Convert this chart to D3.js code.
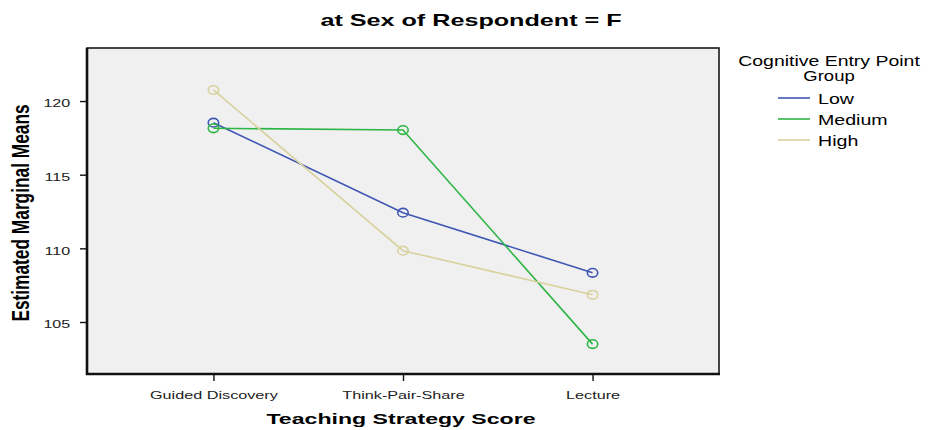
<!DOCTYPE html>
<html>
<head>
<meta charset="utf-8">
<script src="https://cdn.jsdelivr.net/npm/d3@7"></script>
<style>
  body { margin: 0; background: #fff; }
  svg { display: block; font-family: Arial, "Liberation Sans", sans-serif; }
</style>
</head>
<body>
<svg class="chartSVG" width="941" height="430"></svg>
<script>
// data
const strategies = ["Guided Discovery", "Think-Pair-Share", "Lecture"]
const lowMeans = [118.53, 112.42, 108.34]
const mediumMeans = [118.15, 118.03, 103.5]
const highMeans = [120.75, 109.84, 106.85]
const groupNames = ["Low", "Medium", "High"]
const groupColors = ["#3F57B3", "#2DB545", "#D8D29E"]
const yTicks = [105, 110, 115, 120]

const series = [lowMeans, mediumMeans, highMeans].map((v, i) => ({
  name: groupNames[i], color: groupColors[i], values: v
}))

const svg = d3.select(".chartSVG")
const plot = { left: 87, top: 48, right: 719, bottom: 374 }
// the original picture is stretched sideways, so text is widened too
const sx = 1.53

const x = d3.scalePoint()
  .domain(strategies)
  .range([plot.left, plot.right])
  .padding(0.667)

const y = d3.scaleLinear()
  .domain([101.47, 123.6])
  .range([plot.bottom, plot.top])

// widened text helper
function wideText(px, py, str, size, scaleX, opts) {
  opts = opts || {}
  return svg.append("text")
    .attr("transform", `translate(${px},${py}) scale(${scaleX},1)`)
    .attr("text-anchor", opts.anchor || "middle")
    .attr("font-size", size)
    .attr("font-weight", opts.bold ? "bold" : null)
    .attr("fill", "#000")
    .text(str)
}

// plot background + frame
svg.append("rect")
  .attr("x", plot.left).attr("y", plot.top)
  .attr("width", plot.right - plot.left).attr("height", plot.bottom - plot.top)
  .attr("fill", "#F0F0F0")
  .attr("stroke", "#1a1a1a").attr("stroke-width", 1.6)

// y axis
const yAxis = svg.append("g")
  .attr("transform", `translate(${plot.left},0)`)
  .call(d3.axisLeft(y).tickValues(yTicks).tickSize(7).tickSizeOuter(0))
yAxis.select(".domain").attr("stroke", "#111").attr("stroke-width", 2.6)
  .attr("d", `M0,${plot.top}V${plot.bottom + 1}`)
yAxis.selectAll(".tick line").attr("stroke", "#111").attr("stroke-width", 1.4)
yAxis.selectAll("text")
  .attr("font-size", 10.5).attr("fill", "#222")
  .attr("x", -11).attr("dy", "0.55em")
  .attr("transform", `scale(${sx},1)`)

// x axis
const xAxis = svg.append("g")
  .attr("transform", `translate(0,${plot.bottom})`)
  .call(d3.axisBottom(x).tickSize(7).tickSizeOuter(0))
xAxis.select(".domain").attr("stroke", "#111").attr("stroke-width", 2.6)
  .attr("d", `M${plot.left - 1},0H${plot.right + 1}`)
xAxis.selectAll(".tick line").attr("stroke", "#111").attr("stroke-width", 1.4)
xAxis.selectAll("text")
  .attr("font-size", 10.6).attr("fill", "#222")
  .attr("y", 25).attr("dy", 0)
  .attr("transform", `scale(${sx},1)`)

// lines and markers
const line = d3.line()
  .x((d, i) => x(strategies[i]))
  .y(d => y(d))

const g = svg.append("g").attr("class", "seriesG")
  .selectAll("g")
  .data(series)
  .join("g")

g.append("path")
  .attr("d", d => line(d.values))
  .attr("fill", "none")
  .attr("stroke", d => d.color)
  .attr("stroke-width", 1.6)

g.selectAll("ellipse")
  .data(d => d.values.map((v, i) => ({ v, i, color: d.color })))
  .join("ellipse")
  .attr("cx", d => x(strategies[d.i]))
  .attr("cy", d => y(d.v))
  .attr("rx", 5.2)
  .attr("ry", 4.3)
  .attr("fill", "none")
  .attr("stroke", d => d.color)
  .attr("stroke-width", 1.6)

// titles
wideText(471, 26, "at Sex of Respondent = F", 17, 1.48, { bold: true })
wideText(401, 424, "Teaching Strategy Score", 15.4, 1.5, { bold: true })

svg.append("text")
  .attr("transform", `translate(29,${(plot.top + plot.bottom) / 2 + 2}) rotate(-90) scale(1,1.35)`)
  .attr("text-anchor", "middle")
  .attr("font-size", 17.3).attr("font-weight", "bold")
  .text("Estimated Marginal Means")

// legend
wideText(829, 66, "Cognitive Entry Point", 14, 1.39)
wideText(829, 80.5, "Group", 14, 1.32)

const item = svg.append("g").attr("class", "legendG")
  .selectAll("g")
  .data(series)
  .join("g")
  .attr("transform", (d, i) => `translate(778,${98 + i * 21})`)
item.append("line")
  .attr("x1", 0).attr("x2", 32)
  .attr("stroke", d => d.color).attr("stroke-width", 1.6)
item.append("text")
  .attr("transform", "translate(40,5.5) scale(1.38,1)")
  .attr("font-size", 14.2)
  .text(d => d.name)
</script>
</body>
</html>
